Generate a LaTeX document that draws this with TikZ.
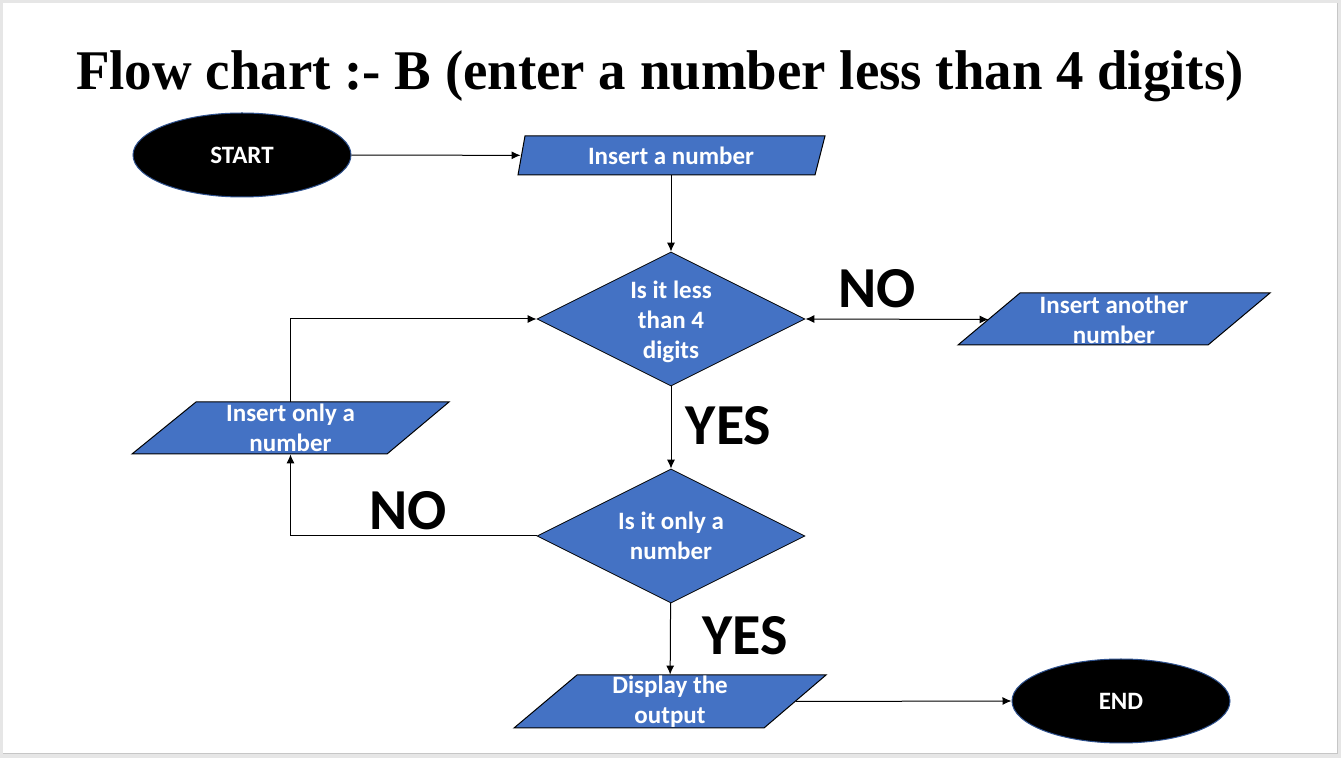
\documentclass[tikz,border=0pt]{standalone}
\usepackage{fontspec}
\setmainfont{Liberation Serif}
\newfontfamily\calibfont{Carlito}
\usetikzlibrary{shapes.geometric,arrows.meta}
\definecolor{shapeblue}{HTML}{4472C4}
\definecolor{ellborder}{HTML}{2F528F}
\definecolor{outergray}{HTML}{E6E6E6}
\definecolor{edgegray}{HTML}{C6C6C6}
\begin{document}
\begin{tikzpicture}[x=0.5pt,y=-0.5pt,
  conn/.style={line width=0.5pt, -{Latex[length=4.5pt,width=4pt]}},
  both/.style={line width=0.5pt, {Latex[length=4.5pt,width=4pt]}-{Latex[length=4.5pt,width=4pt]}},
  shapefont/.style={font=\calibfont\bfseries\fontsize{12.5}{15}\selectfont},
  term/.style={ellipse, fill=black, draw=ellborder, line width=0.5pt, minimum width=109pt, minimum height=42pt, inner sep=0pt, text=white, shapefont},
  decision/.style={diamond, aspect=2, fill=shapeblue, draw=black, line width=0.4pt, minimum width=134pt, minimum height=67pt, inner sep=0pt, text=white, align=center, shapefont},
  iotext/.style={rectangle, inner sep=0pt, text=white, align=center, shapefont},
  iobox/.style={fill=shapeblue, draw=black, line width=0.5pt},
  answer/.style={font=\calibfont\bfseries\fontsize{29}{35}\selectfont, anchor=base, inner sep=0pt},
]
\useasboundingbox (0,0) rectangle (1341,758);
\fill[outergray] (0,0) rectangle (1341,758);
\fill[white] (3,3) rectangle (1337,753);
\draw[edgegray, line width=0.5pt] (1337.5,3) -- (1337.5,753.5) -- (3,753.5);

% title
\node[font=\bfseries\fontsize{28}{34}\selectfont\addfontfeatures{FakeStretch=0.98}, anchor=base, inner sep=0pt] (title) at (660,89.5) {Flow chart :- B (enter a number less than 4 digits)};

% terminals
\node[term] (start) at (242,155) {START};
\node[term] (end) at (1121,701) {END};

% input / output boxes
\filldraw[iobox] (525,136) -- (825,136) -- (815,175) -- (518,175) -- cycle;
\node[iotext, minimum width=150pt, minimum height=19.5pt] (ins1) at (671,155.5) {Insert a number};

\filldraw[iobox] (1020,293) -- (1270,293) -- (1208,345) -- (958,345) -- cycle;
\node[iotext, minimum width=125pt, minimum height=26pt] (ins2) at (1114,319.5) {Insert another\\number};

\filldraw[iobox] (196,402) -- (449,402) -- (387,454) -- (132,454) -- cycle;
\node[iotext, minimum width=125pt, minimum height=26pt] (ins3) at (290.5,428) {Insert only a\\number};

\filldraw[iobox] (577,675) -- (826,675) -- (764,728) -- (514,728) -- cycle;
\node[iotext, minimum width=125.5pt, minimum height=26.5pt] (out) at (670,701.5) {Display the\\output};

% decisions
\node[decision] (d1) at (671,319) {};
\node[iotext] (d1text) at (671,322) {Is it less\\than 4\\digits};
\node[decision] (d2) at (671,536) {Is it only a\\number};

% connectors
\draw[conn] (start) -- (ins1);
\draw[conn] (ins1) -- (d1);
\draw[both] (d1.east) -- (ins2.west);
\draw[conn] (d1) -- (d2);
\draw[conn] (d2.west) -| (ins3.south);
\draw[conn] (ins3.north) |- (d1.west);
\draw[conn] (d2) -- (out);
\draw[conn] (out.east) -- (end.west);

% answer labels
\node[answer] (no1) at (877,308) {NO};
\node[answer] (no2) at (408,530) {NO};
\node[answer] (yes1) at (728.5,445) {YES};
\node[answer] (yes2) at (745,655) {YES};
\end{tikzpicture}
\end{document}
